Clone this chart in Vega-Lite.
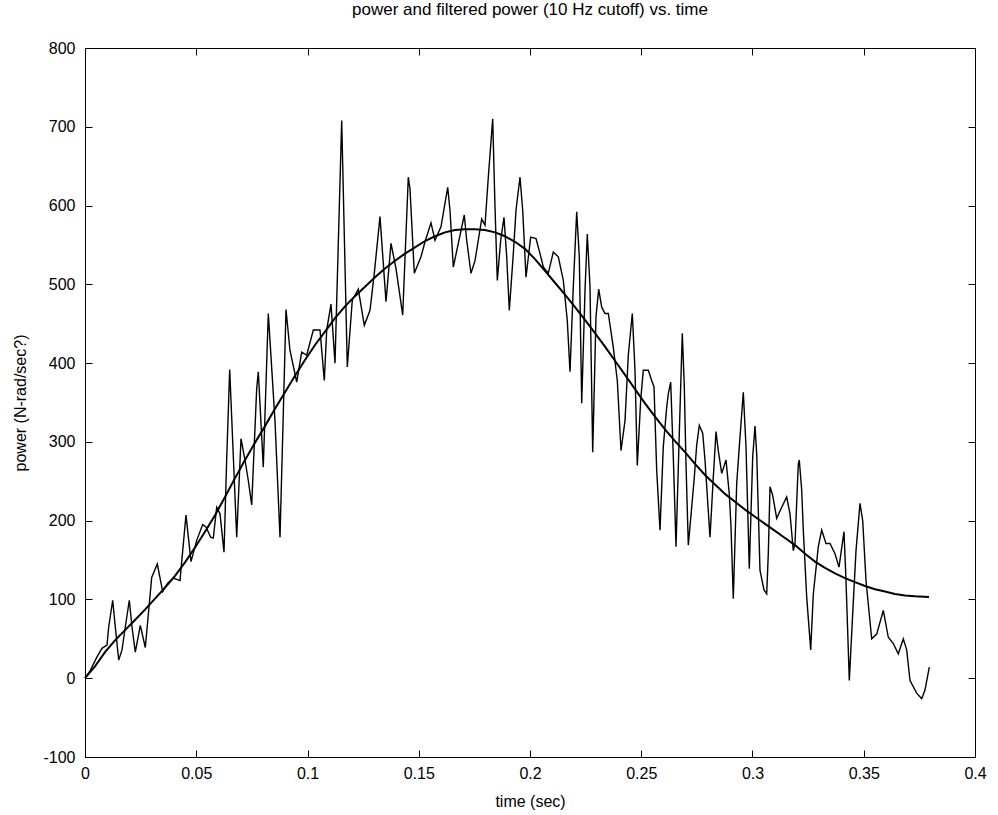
{
  "$schema": "https://vega.github.io/schema/vega-lite/v6.json",
  "width": 890,
  "height": 709,
  "autosize": "none",
  "padding": {"left": 85, "top": 48, "right": 23, "bottom": 58},
  "background": "white",
  "config": {
    "view": {"stroke": "black", "strokeWidth": 1},
    "font": "Liberation Sans",
    "axis": {
      "grid": false,
      "domainColor": "black",
      "tickColor": "black",
      "labelColor": "black",
      "titleColor": "black",
      "labelFont": "Liberation Sans",
      "titleFont": "Liberation Sans",
      "labelFontSize": 16,
      "titleFontSize": 16,
      "titleFontWeight": "normal",
      "tickSize": -7,
      "domainWidth": 1,
      "tickWidth": 1
    }
  },
  "title": {
    "text": "power and filtered power (10 Hz cutoff) vs. time",
    "fontSize": 17,
    "fontWeight": "normal",
    "font": "Liberation Sans",
    "color": "black",
    "offset": 21
  },
  "datasets": {
    "noisy": [
      {"t": 0, "p": 0}, {"t": 0.00238, "p": 10}, {"t": 0.00539, "p": 27}, {"t": 0.00764, "p": 38},
      {"t": 0.00989, "p": 42}, {"t": 0.01065, "p": 65}, {"t": 0.01245, "p": 99}, {"t": 0.01362, "p": 65},
      {"t": 0.01515, "p": 23}, {"t": 0.01663, "p": 36}, {"t": 0.01811, "p": 65}, {"t": 0.01991, "p": 99},
      {"t": 0.02112, "p": 65}, {"t": 0.02261, "p": 33}, {"t": 0.02485, "p": 67}, {"t": 0.0271, "p": 39},
      {"t": 0.02863, "p": 86}, {"t": 0.02998, "p": 128}, {"t": 0.03249, "p": 145}, {"t": 0.03492, "p": 110},
      {"t": 0.03699, "p": 120}, {"t": 0.03969, "p": 127}, {"t": 0.0427, "p": 124}, {"t": 0.04346, "p": 148},
      {"t": 0.04539, "p": 207}, {"t": 0.04764, "p": 148}, {"t": 0.0502, "p": 175}, {"t": 0.0529, "p": 195},
      {"t": 0.05438, "p": 192}, {"t": 0.05649, "p": 179}, {"t": 0.05766, "p": 178}, {"t": 0.05919, "p": 217},
      {"t": 0.06067, "p": 209}, {"t": 0.06247, "p": 160}, {"t": 0.06369, "p": 279}, {"t": 0.06503, "p": 392},
      {"t": 0.06818, "p": 179}, {"t": 0.07011, "p": 304}, {"t": 0.07191, "p": 277}, {"t": 0.07339, "p": 251},
      {"t": 0.07492, "p": 220}, {"t": 0.07717, "p": 368}, {"t": 0.07789, "p": 389}, {"t": 0.08013, "p": 268},
      {"t": 0.08238, "p": 463}, {"t": 0.08539, "p": 327}, {"t": 0.08764, "p": 179}, {"t": 0.08912, "p": 336},
      {"t": 0.09034, "p": 468}, {"t": 0.09213, "p": 416}, {"t": 0.09515, "p": 376}, {"t": 0.09739, "p": 414},
      {"t": 0.09964, "p": 410}, {"t": 0.10261, "p": 442}, {"t": 0.10562, "p": 442}, {"t": 0.10755, "p": 378},
      {"t": 0.10863, "p": 442}, {"t": 0.11056, "p": 475}, {"t": 0.11236, "p": 400}, {"t": 0.11537, "p": 708},
      {"t": 0.11789, "p": 395}, {"t": 0.12013, "p": 480}, {"t": 0.12283, "p": 494}, {"t": 0.12553, "p": 448},
      {"t": 0.12809, "p": 467}, {"t": 0.13002, "p": 514}, {"t": 0.13258, "p": 586}, {"t": 0.13528, "p": 478},
      {"t": 0.13753, "p": 552}, {"t": 0.13978, "p": 520}, {"t": 0.14279, "p": 461}, {"t": 0.1453, "p": 636},
      {"t": 0.14607, "p": 621}, {"t": 0.148, "p": 514}, {"t": 0.15101, "p": 535}, {"t": 0.15281, "p": 554},
      {"t": 0.15551, "p": 578}, {"t": 0.1573, "p": 556}, {"t": 0.16, "p": 573}, {"t": 0.16301, "p": 623},
      {"t": 0.16404, "p": 594}, {"t": 0.16553, "p": 522}, {"t": 0.16809, "p": 556}, {"t": 0.17047, "p": 588},
      {"t": 0.17155, "p": 556}, {"t": 0.17348, "p": 514}, {"t": 0.17528, "p": 530}, {"t": 0.17829, "p": 583},
      {"t": 0.17978, "p": 575}, {"t": 0.18126, "p": 636}, {"t": 0.18324, "p": 710}, {"t": 0.18427, "p": 598},
      {"t": 0.18531, "p": 505}, {"t": 0.18683, "p": 556}, {"t": 0.18831, "p": 585}, {"t": 0.18953, "p": 535},
      {"t": 0.1907, "p": 467}, {"t": 0.1925, "p": 539}, {"t": 0.19371, "p": 594}, {"t": 0.19551, "p": 636},
      {"t": 0.19672, "p": 594}, {"t": 0.1982, "p": 509}, {"t": 0.20031, "p": 560}, {"t": 0.2027, "p": 558},
      {"t": 0.2045, "p": 539}, {"t": 0.20598, "p": 522}, {"t": 0.20822, "p": 514}, {"t": 0.21047, "p": 541},
      {"t": 0.21272, "p": 535}, {"t": 0.21497, "p": 505}, {"t": 0.21676, "p": 454}, {"t": 0.21798, "p": 389},
      {"t": 0.21946, "p": 497}, {"t": 0.22099, "p": 592}, {"t": 0.22216, "p": 535}, {"t": 0.22324, "p": 349},
      {"t": 0.22472, "p": 492}, {"t": 0.22575, "p": 564}, {"t": 0.22697, "p": 497}, {"t": 0.22818, "p": 287},
      {"t": 0.22966, "p": 459}, {"t": 0.23088, "p": 494}, {"t": 0.23222, "p": 471}, {"t": 0.23371, "p": 463},
      {"t": 0.23519, "p": 463}, {"t": 0.23744, "p": 420}, {"t": 0.23924, "p": 378}, {"t": 0.2409, "p": 289},
      {"t": 0.2427, "p": 327}, {"t": 0.24418, "p": 410}, {"t": 0.24598, "p": 463}, {"t": 0.24719, "p": 391},
      {"t": 0.24822, "p": 270}, {"t": 0.24975, "p": 353}, {"t": 0.25092, "p": 391}, {"t": 0.25317, "p": 391},
      {"t": 0.25469, "p": 378}, {"t": 0.25573, "p": 370}, {"t": 0.25694, "p": 264}, {"t": 0.25843, "p": 188},
      {"t": 0.25991, "p": 294}, {"t": 0.26144, "p": 344}, {"t": 0.26216, "p": 361}, {"t": 0.26323, "p": 376},
      {"t": 0.26441, "p": 281}, {"t": 0.26562, "p": 167}, {"t": 0.2671, "p": 311}, {"t": 0.26845, "p": 438},
      {"t": 0.26935, "p": 370}, {"t": 0.27011, "p": 272}, {"t": 0.27115, "p": 169}, {"t": 0.27267, "p": 217},
      {"t": 0.27384, "p": 255}, {"t": 0.27492, "p": 296}, {"t": 0.27609, "p": 321}, {"t": 0.27762, "p": 311},
      {"t": 0.27865, "p": 277}, {"t": 0.2809, "p": 179}, {"t": 0.28238, "p": 255}, {"t": 0.2836, "p": 313},
      {"t": 0.28463, "p": 289}, {"t": 0.28616, "p": 260}, {"t": 0.28809, "p": 277}, {"t": 0.28957, "p": 234},
      {"t": 0.29034, "p": 192}, {"t": 0.29137, "p": 101}, {"t": 0.2929, "p": 247}, {"t": 0.29407, "p": 294},
      {"t": 0.29587, "p": 363}, {"t": 0.29708, "p": 294}, {"t": 0.29856, "p": 139}, {"t": 0.30009, "p": 281},
      {"t": 0.30112, "p": 320}, {"t": 0.30189, "p": 285}, {"t": 0.30337, "p": 137}, {"t": 0.30517, "p": 112},
      {"t": 0.30638, "p": 107}, {"t": 0.3071, "p": 158}, {"t": 0.30787, "p": 243}, {"t": 0.30908, "p": 232},
      {"t": 0.31088, "p": 203}, {"t": 0.31312, "p": 217}, {"t": 0.31537, "p": 230}, {"t": 0.31685, "p": 209},
      {"t": 0.31834, "p": 162}, {"t": 0.3191, "p": 171}, {"t": 0.32058, "p": 272}, {"t": 0.32103, "p": 277},
      {"t": 0.32211, "p": 239}, {"t": 0.32283, "p": 188}, {"t": 0.32436, "p": 103}, {"t": 0.32616, "p": 36},
      {"t": 0.32733, "p": 107}, {"t": 0.32958, "p": 167}, {"t": 0.3311, "p": 188}, {"t": 0.33303, "p": 171},
      {"t": 0.33483, "p": 171}, {"t": 0.33708, "p": 158}, {"t": 0.33888, "p": 141}, {"t": 0.34112, "p": 186},
      {"t": 0.34202, "p": 124}, {"t": 0.34351, "p": -3}, {"t": 0.34503, "p": 82}, {"t": 0.34652, "p": 162},
      {"t": 0.34831, "p": 222}, {"t": 0.34953, "p": 200}, {"t": 0.35101, "p": 124}, {"t": 0.35357, "p": 50},
      {"t": 0.35582, "p": 56}, {"t": 0.35879, "p": 86}, {"t": 0.36103, "p": 52}, {"t": 0.36328, "p": 44},
      {"t": 0.36553, "p": 31}, {"t": 0.36778, "p": 50}, {"t": 0.3693, "p": 36}, {"t": 0.37079, "p": -3},
      {"t": 0.37379, "p": -19}, {"t": 0.37604, "p": -26}, {"t": 0.37753, "p": -15}, {"t": 0.37946, "p": 14}
    ],
    "filtered": [
      {"t": 0, "p": 0}, {"t": 0.00449, "p": 15}, {"t": 0.00899, "p": 33}, {"t": 0.01348, "p": 48},
      {"t": 0.01798, "p": 61}, {"t": 0.02247, "p": 74}, {"t": 0.02697, "p": 87}, {"t": 0.03146, "p": 101},
      {"t": 0.03596, "p": 115}, {"t": 0.04045, "p": 130}, {"t": 0.04494, "p": 147}, {"t": 0.04944, "p": 166},
      {"t": 0.05393, "p": 186}, {"t": 0.05843, "p": 207}, {"t": 0.06292, "p": 230}, {"t": 0.06742, "p": 254},
      {"t": 0.07191, "p": 277}, {"t": 0.0764, "p": 299}, {"t": 0.0809, "p": 320}, {"t": 0.08539, "p": 342},
      {"t": 0.08989, "p": 363}, {"t": 0.09438, "p": 384}, {"t": 0.09888, "p": 404}, {"t": 0.10337, "p": 423},
      {"t": 0.10787, "p": 440}, {"t": 0.11236, "p": 457}, {"t": 0.11685, "p": 472}, {"t": 0.12135, "p": 485},
      {"t": 0.12584, "p": 497}, {"t": 0.13034, "p": 509}, {"t": 0.13483, "p": 520}, {"t": 0.13933, "p": 530},
      {"t": 0.14382, "p": 539}, {"t": 0.14831, "p": 547}, {"t": 0.15281, "p": 555}, {"t": 0.1573, "p": 561},
      {"t": 0.1618, "p": 566}, {"t": 0.16629, "p": 569}, {"t": 0.17079, "p": 570}, {"t": 0.17528, "p": 570},
      {"t": 0.17978, "p": 569}, {"t": 0.18427, "p": 566}, {"t": 0.18876, "p": 561}, {"t": 0.19326, "p": 554},
      {"t": 0.19775, "p": 545}, {"t": 0.20225, "p": 532}, {"t": 0.20674, "p": 517}, {"t": 0.21124, "p": 502},
      {"t": 0.21573, "p": 487}, {"t": 0.22022, "p": 471}, {"t": 0.22472, "p": 455}, {"t": 0.22921, "p": 438},
      {"t": 0.23371, "p": 421}, {"t": 0.2382, "p": 403}, {"t": 0.2427, "p": 385}, {"t": 0.24719, "p": 367},
      {"t": 0.25169, "p": 349}, {"t": 0.25618, "p": 332}, {"t": 0.26067, "p": 316}, {"t": 0.26517, "p": 301},
      {"t": 0.26966, "p": 287}, {"t": 0.27416, "p": 272}, {"t": 0.27865, "p": 258}, {"t": 0.28315, "p": 246},
      {"t": 0.28764, "p": 234}, {"t": 0.29213, "p": 224}, {"t": 0.29663, "p": 214}, {"t": 0.30112, "p": 205},
      {"t": 0.30562, "p": 196}, {"t": 0.31011, "p": 187}, {"t": 0.31461, "p": 178}, {"t": 0.3191, "p": 169},
      {"t": 0.3236, "p": 158}, {"t": 0.32809, "p": 148}, {"t": 0.33258, "p": 140}, {"t": 0.33708, "p": 133},
      {"t": 0.34157, "p": 127}, {"t": 0.34607, "p": 122}, {"t": 0.35056, "p": 117}, {"t": 0.35506, "p": 113},
      {"t": 0.35955, "p": 110}, {"t": 0.36404, "p": 107}, {"t": 0.36854, "p": 105}, {"t": 0.37303, "p": 104},
      {"t": 0.37933, "p": 103}
    ]
  },
  "layer": [
    {
      "data": {"name": "noisy"},
      "mark": {"type": "line", "color": "black", "strokeWidth": 1.4},
      "encoding": {
        "x": {
          "field": "t", "type": "quantitative",
          "scale": {"domain": [0, 0.4], "nice": false, "zero": false},
          "axis": {"orient": "bottom", "values": [0, 0.05, 0.1, 0.15, 0.2, 0.25, 0.3, 0.35, 0.4], "format": "~g", "title": "time (sec)", "labelPadding": 15, "titlePadding": 12, "labelFlush": false}
        },
        "y": {
          "field": "p", "type": "quantitative",
          "scale": {"domain": [-100, 800], "nice": false, "zero": false},
          "axis": {"orient": "left", "values": [-100, 0, 100, 200, 300, 400, 500, 600, 700, 800], "labelExpr": "datum.value < 0 ? '-' + abs(datum.value) : datum.label", "title": "power (N-rad/sec?)", "labelPadding": 17, "titlePadding": 14, "labelFlush": false}
        }
      }
    },
    {
      "data": {"name": "filtered"},
      "mark": {"type": "line", "color": "black", "strokeWidth": 2},
      "encoding": {
        "x": {
          "field": "t", "type": "quantitative",
          "scale": {"domain": [0, 0.4], "nice": false, "zero": false},
          "axis": {"orient": "top", "values": [0, 0.05, 0.1, 0.15, 0.2, 0.25, 0.3, 0.35, 0.4], "labels": false, "title": null}
        },
        "y": {
          "field": "p", "type": "quantitative",
          "scale": {"domain": [-100, 800], "nice": false, "zero": false},
          "axis": {"orient": "right", "values": [-100, 0, 100, 200, 300, 400, 500, 600, 700, 800], "labels": false, "title": null}
        }
      }
    }
  ],
  "resolve": {"axis": {"x": "independent", "y": "independent"}}
}
